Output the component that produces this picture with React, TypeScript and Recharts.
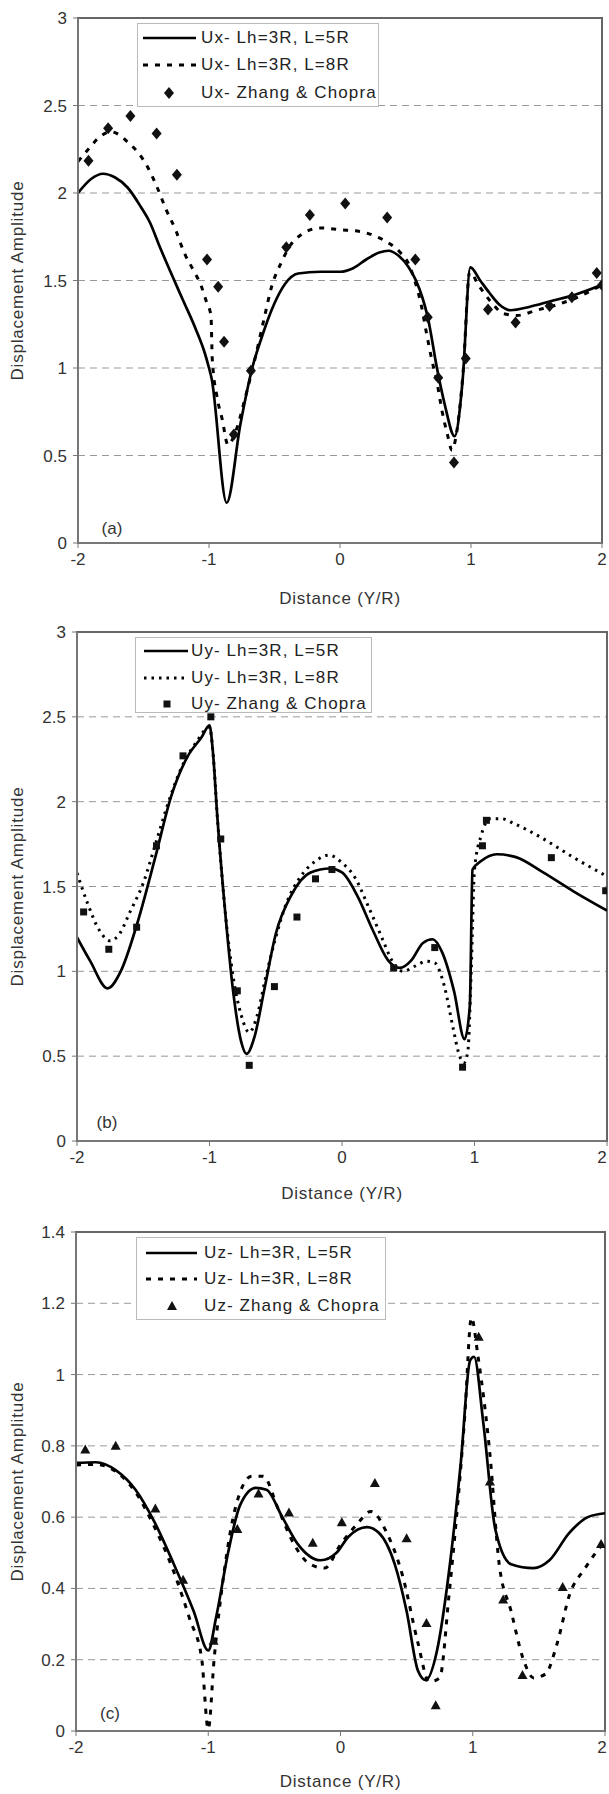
import React from 'react';
import { ComposedChart, Line, Scatter, XAxis, YAxis, CartesianGrid, ReferenceArea, Label } from 'recharts';

type Pt = [number, number];

const FONT = '"Liberation Sans", Arial, sans-serif';

const distanceTicks = [-2, -1, 0, 1, 2];
const ampTicksXY = [0, 0.5, 1, 1.5, 2, 2.5, 3];
const ampTicksZ = [0, 0.2, 0.4, 0.6, 0.8, 1, 1.2, 1.4];

// (a) Ux
const uxLen5R: Pt[] = [
  [-2, 2.0], [-1.9, 2.08], [-1.81, 2.11], [-1.72, 2.09], [-1.62, 2.03], [-1.52, 1.92], [-1.45, 1.83],
  [-1.38, 1.7], [-1.3, 1.56], [-1.2, 1.39], [-1.1, 1.22], [-1.03, 1.08], [-1.0, 1.0], [-0.98, 0.94],
  [-0.865, 0.23], [-0.76, 0.68], [-0.67, 1.0], [-0.6, 1.17], [-0.5, 1.37], [-0.42, 1.48], [-0.32, 1.54],
  [-0.15, 1.55], [0.0, 1.55], [0.1, 1.57], [0.2, 1.62], [0.3, 1.66], [0.37, 1.67], [0.45, 1.64],
  [0.52, 1.58], [0.58, 1.5], [0.63, 1.4], [0.67, 1.29], [0.74, 1.0], [0.8, 0.79], [0.875, 0.61],
  [0.935, 0.92], [0.995, 1.575], [1.07, 1.5], [1.14, 1.43], [1.22, 1.36], [1.3, 1.33], [1.45, 1.35],
  [1.6, 1.38], [1.8, 1.42], [2.0, 1.475],
];
const uxLen8R: Pt[] = [
  [-2, 2.18], [-1.91, 2.26], [-1.85, 2.31], [-1.75, 2.35], [-1.68, 2.33], [-1.62, 2.29], [-1.54, 2.23],
  [-1.47, 2.15], [-1.4, 2.04], [-1.33, 1.91], [-1.25, 1.78], [-1.19, 1.66], [-1.12, 1.56], [-1.06, 1.47],
  [-1.02, 1.38], [-0.985, 1.3], [-0.975, 1.05], [-0.94, 0.84], [-0.9, 0.71], [-0.855, 0.56], [-0.8, 0.63],
  [-0.72, 0.84], [-0.65, 1.05], [-0.58, 1.28], [-0.52, 1.47], [-0.45, 1.6], [-0.38, 1.7], [-0.3, 1.76],
  [-0.15, 1.8], [0.0, 1.79], [0.15, 1.78], [0.28, 1.75], [0.38, 1.71], [0.46, 1.66], [0.52, 1.6],
  [0.57, 1.5], [0.62, 1.36], [0.66, 1.2], [0.7, 1.05], [0.74, 0.92], [0.78, 0.75], [0.82, 0.62],
  [0.855, 0.53], [0.89, 0.63], [0.94, 0.98], [0.99, 1.55], [1.06, 1.47], [1.15, 1.38], [1.25, 1.31],
  [1.35, 1.3], [1.5, 1.33], [1.65, 1.36], [1.8, 1.4], [2.0, 1.475],
];
const uxZhang: Pt[] = [
  [-1.92, 2.185], [-1.77, 2.37], [-1.6, 2.44], [-1.4, 2.34], [-1.245, 2.105], [-1.015, 1.62], [-0.93, 1.465],
  [-0.885, 1.15], [-0.81, 0.62], [-0.68, 0.985], [-0.41, 1.69], [-0.23, 1.875], [0.04, 1.94], [0.36, 1.86],
  [0.575, 1.62], [0.67, 1.29], [0.75, 0.945], [0.87, 0.46], [0.96, 1.055], [1.13, 1.335], [1.34, 1.26],
  [1.6, 1.355], [1.77, 1.405], [1.96, 1.543], [2.0, 1.475],
];

// (b) Uy
const uyLen5R: Pt[] = [
  [-2, 1.2], [-1.9, 1.06], [-1.77, 0.9], [-1.67, 1.0], [-1.55, 1.27], [-1.41, 1.67], [-1.29, 2.03],
  [-1.17, 2.26], [-1.06, 2.38], [-1.0, 2.45], [-0.975, 2.3], [-0.94, 1.9], [-0.88, 1.336], [-0.822, 0.885],
  [-0.763, 0.592], [-0.72, 0.514], [-0.66, 0.615], [-0.588, 0.885], [-0.5, 1.22], [-0.383, 1.448],
  [-0.237, 1.583], [-0.09, 1.606], [0.0, 1.583], [0.114, 1.448], [0.231, 1.245], [0.348, 1.065],
  [0.436, 1.02], [0.523, 1.065], [0.611, 1.167], [0.684, 1.189], [0.757, 1.11], [0.845, 0.885],
  [0.925, 0.6], [0.965, 0.8], [0.985, 1.6], [1.05, 1.65], [1.167, 1.69], [1.313, 1.673], [1.518, 1.583],
  [1.75, 1.47], [2.0, 1.358],
];
const uyLen8R: Pt[] = [
  [-2, 1.58], [-1.92, 1.4], [-1.83, 1.24], [-1.75, 1.18], [-1.68, 1.22], [-1.6, 1.35], [-1.5, 1.52],
  [-1.4, 1.77], [-1.3, 2.02], [-1.2, 2.22], [-1.1, 2.35], [-1.0, 2.44], [-0.975, 2.3], [-0.94, 1.9],
  [-0.88, 1.34], [-0.82, 0.96], [-0.76, 0.74], [-0.7, 0.64], [-0.64, 0.74], [-0.58, 0.95], [-0.5, 1.2],
  [-0.42, 1.4], [-0.32, 1.55], [-0.2, 1.65], [-0.1, 1.685], [0.0, 1.64], [0.1, 1.55], [0.2, 1.38],
  [0.3, 1.2], [0.38, 1.06], [0.46, 1.0], [0.55, 1.03], [0.64, 1.06], [0.7, 1.05], [0.77, 0.92],
  [0.84, 0.66], [0.88, 0.52], [0.92, 0.46], [0.95, 0.53], [0.975, 1.0], [1.0, 1.6], [1.05, 1.8],
  [1.12, 1.9], [1.2, 1.9], [1.3, 1.87], [1.5, 1.79], [1.75, 1.67], [2.0, 1.56],
];
const uyZhang: Pt[] = [
  [-1.95, 1.35], [-1.76, 1.13], [-1.55, 1.26], [-1.4, 1.74], [-1.2, 2.27], [-0.99, 2.5], [-0.915, 1.78],
  [-0.79, 0.885], [-0.7, 0.446], [-0.51, 0.91], [-0.34, 1.32], [-0.2, 1.545], [-0.076, 1.6], [0.39, 1.02],
  [0.7, 1.14], [0.91, 0.435], [1.06, 1.74], [1.09, 1.89], [1.58, 1.67], [1.99, 1.475],
];

// (c) Uz
const uzLen5R: Pt[] = [
  [-2, 0.752], [-1.85, 0.754], [-1.7, 0.732], [-1.55, 0.677], [-1.41, 0.589], [-1.26, 0.468], [-1.11, 0.336],
  [-1.0, 0.226], [-0.94, 0.32], [-0.85, 0.5], [-0.76, 0.633], [-0.64, 0.682], [-0.56, 0.677], [-0.44, 0.6],
  [-0.32, 0.523], [-0.15, 0.479], [-0.03, 0.5], [0.06, 0.545], [0.2, 0.572], [0.29, 0.556], [0.41, 0.468],
  [0.5, 0.336], [0.585, 0.17], [0.645, 0.143], [0.73, 0.226], [0.82, 0.446], [0.91, 0.754], [0.98, 1.04],
  [1.01, 1.05], [1.08, 0.864], [1.17, 0.567], [1.29, 0.468], [1.46, 0.457], [1.58, 0.479], [1.73, 0.556],
  [1.87, 0.6], [2.0, 0.611],
];
const uzLen8R: Pt[] = [
  [-2, 0.746], [-1.85, 0.748], [-1.7, 0.728], [-1.55, 0.67], [-1.41, 0.575], [-1.26, 0.446], [-1.14, 0.314],
  [-1.05, 0.204], [-1.0, 0.005], [-0.955, 0.204], [-0.88, 0.446], [-0.79, 0.633], [-0.67, 0.715],
  [-0.585, 0.715], [-0.47, 0.622], [-0.35, 0.523], [-0.23, 0.468], [-0.12, 0.457], [0.0, 0.523],
  [0.12, 0.578], [0.23, 0.616], [0.35, 0.556], [0.47, 0.435], [0.585, 0.248], [0.67, 0.138], [0.75, 0.149],
  [0.82, 0.38], [0.94, 0.886], [0.99, 1.16], [1.04, 1.05], [1.13, 0.776], [1.2, 0.468], [1.29, 0.336],
  [1.38, 0.204], [1.46, 0.149], [1.55, 0.16], [1.64, 0.248], [1.73, 0.38], [1.85, 0.457], [2.0, 0.534],
];
const uzZhang: Pt[] = [
  [-1.93, 0.79], [-1.7, 0.8], [-1.4, 0.624], [-1.19, 0.424], [-0.96, 0.253], [-0.78, 0.567], [-0.62, 0.666],
  [-0.39, 0.613], [-0.21, 0.528], [0.01, 0.586], [0.26, 0.696], [0.5, 0.541], [0.65, 0.303], [0.72, 0.072],
  [1.045, 1.106], [1.13, 0.7], [1.23, 0.369], [1.376, 0.157], [1.68, 0.404], [1.97, 0.525],
];

const legendUx = ['Ux- Lh=3R, L=5R', 'Ux- Lh=3R, L=8R', 'Ux- Zhang & Chopra'];
const legendUy = ['Uy- Lh=3R, L=5R', 'Uy- Lh=3R, L=8R', 'Uy- Zhang & Chopra'];
const legendUz = ['Uz- Lh=3R, L=5R', 'Uz- Lh=3R, L=8R', 'Uz- Zhang & Chopra'];

const toRows = (pts: Pt[]) => pts.map(([x, y]) => ({ x, y }));

type MarkerKind = 'diamond' | 'square' | 'triangle';

const Marker = ({ kind, cx, cy }: { kind: MarkerKind; cx: number; cy: number }) => {
  if (kind === 'diamond') {
    return <polygon points={`${cx},${cy - 6} ${cx + 5},${cy} ${cx},${cy + 6} ${cx - 5},${cy}`} fill="#111" />;
  }
  if (kind === 'square') {
    return <rect x={cx - 3.5} y={cy - 3.5} width={7} height={7} fill="#111" />;
  }
  return <polygon points={`${cx},${cy - 5} ${cx + 5},${cy + 4} ${cx - 5},${cy + 4}`} fill="#111" />;
};

interface PanelProps {
  top: number;
  height: number;
  marginTop: number;
  marginRight: number;
  yWidth: number;
  xHeight: number;
  titleBase: number;
  yMax: number;
  yTicks: number[];
  solid: Pt[];
  broken: Pt[];
  points: Pt[];
  dash: string;
  dashWidth: number;
  marker: MarkerKind;
  labels: string[];
  legend: { left: number; top: number; width: number; height: number; rows: number[]; s0: number; s1: number; mx: number; tx: number };
  tag: string;
  tagPos: { x: number; y: number };
}

const Panel = (p: PanelProps) => {
  const W = 609;
  const plotW = W - p.yWidth - p.marginRight;
  const plotH = p.height - p.marginTop - p.xHeight;
  const tick = { fill: '#333', fontSize: 17, fontFamily: FONT };
  const lg = p.legend;

  // keep the last tick label inside the page
  const xTick = (t: any) => (
    <text
      x={Math.min(t.x, W - 7)}
      y={t.y}
      dy="0.71em"
      textAnchor="middle"
      fill="#333"
      fontSize={17}
      fontFamily={FONT}
    >
      {t.payload.value}
    </text>
  );

  return (
    <div style={{ position: 'absolute', left: 0, top: p.top, width: W, height: p.height }}>
      <ComposedChart width={W} height={p.height} margin={{ top: p.marginTop, right: p.marginRight, left: 0, bottom: 0 }}>
        <CartesianGrid vertical={false} stroke="#999" strokeDasharray="7 5" />
        <XAxis
          type="number"
          dataKey="x"
          domain={[-2, 2]}
          ticks={distanceTicks}
          interval={0}
          allowDataOverflow
          height={p.xHeight}
          axisLine={{ stroke: '#777', strokeWidth: 2 }}
          tickLine={{ stroke: '#777' }}
          tickSize={5}
          tickMargin={5}
          tick={xTick}
        >
          <Label
            content={() => (
              <text x={p.yWidth + plotW / 2} y={p.titleBase} textAnchor="middle" fill="#333" fontSize={17} fontFamily={FONT} letterSpacing={0.8}>
                Distance (Y/R)
              </text>
            )}
          />
        </XAxis>
        <YAxis
          type="number"
          dataKey="y"
          domain={[0, p.yMax]}
          ticks={p.yTicks}
          interval={0}
          allowDataOverflow
          width={p.yWidth}
          axisLine={{ stroke: '#777', strokeWidth: 2 }}
          tickLine={{ stroke: '#777' }}
          tickSize={5}
          tickMargin={6}
          tick={tick}
        >
          <Label
            content={() => (
              <text
                transform={`translate(17, ${p.marginTop + plotH / 2}) rotate(-90)`}
                textAnchor="middle"
                dominantBaseline="central"
                fill="#333"
                fontSize={17}
                fontFamily={FONT}
                letterSpacing={0.8}
              >
                Displacement Amplitude
              </text>
            )}
          />
        </YAxis>
        <ReferenceArea x1={-2} x2={2} y1={0} y2={p.yMax} fill="none" fillOpacity={0} stroke="#666" strokeWidth={2} />
        <Line
          type="monotone"
          data={toRows(p.solid)}
          dataKey="y"
          stroke="#000"
          strokeWidth={2.7}
          dot={false}
          isAnimationActive={false}
        />
        <Line
          type="monotone"
          data={toRows(p.broken)}
          dataKey="y"
          stroke="#000"
          strokeWidth={p.dashWidth}
          strokeDasharray={p.dash}
          dot={false}
          isAnimationActive={false}
        />
        <Scatter
          data={toRows(p.points)}
          dataKey="y"
          isAnimationActive={false}
          shape={(s: any) => <Marker kind={p.marker} cx={s.cx} cy={s.cy} />}
        />
      </ComposedChart>

      <div
        style={{
          position: 'absolute',
          left: lg.left,
          top: lg.top,
          width: lg.width,
          height: lg.height,
          border: '1px solid #bbb',
          background: '#fff',
          boxSizing: 'border-box',
          fontFamily: FONT,
          fontSize: 17,
          letterSpacing: 1.1,
          color: '#222',
        }}
      >
        {p.labels.map((t, i) => (
          <div key={t} style={{ position: 'absolute', left: 0, top: lg.rows[i] - 12, height: 24, whiteSpace: 'nowrap' }}>
            <svg width={lg.tx} height={24} style={{ position: 'absolute', left: 0, top: 0 }}>
              {i === 0 && <line x1={lg.s0} x2={lg.s1} y1={12} y2={12} stroke="#000" strokeWidth={2.7} />}
              {i === 1 && (
                <line x1={lg.s0} x2={lg.s1} y1={12} y2={12} stroke="#000" strokeWidth={p.dashWidth} strokeDasharray={p.dash} />
              )}
              {i === 2 && <Marker kind={p.marker} cx={lg.mx} cy={12} />}
            </svg>
            <span style={{ position: 'absolute', left: lg.tx, top: 0, lineHeight: '24px' }}>{t}</span>
          </div>
        ))}
      </div>

      <div
        style={{
          position: 'absolute',
          left: p.tagPos.x - 20,
          top: p.tagPos.y - 12,
          width: 40,
          height: 24,
          lineHeight: '24px',
          textAlign: 'center',
          fontFamily: FONT,
          fontSize: 17,
          color: '#333',
        }}
      >
        {p.tag}
      </div>
    </div>
  );
};

export default function App() {
  return (
    <div style={{ position: 'absolute', left: 0, top: 0, width: 609, height: 1794, background: '#fff' }}>
      <Panel
        top={0}
        height={610}
        marginTop={18}
        marginRight={7}
        yWidth={78}
        xHeight={67}
        titleBase={604}
        yMax={3}
        yTicks={ampTicksXY}
        solid={uxLen5R}
        broken={uxLen8R}
        points={uxZhang}
        dash="5 7"
        dashWidth={3}
        marker="diamond"
        labels={legendUx}
        legend={{ left: 137, top: 23, width: 242, height: 84, rows: [14, 41, 69], s0: 5, s1: 58, mx: 31, tx: 63 }}
        tag="(a)"
        tagPos={{ x: 112, y: 529 }}
      />
      <Panel
        top={610}
        height={595}
        marginTop={22}
        marginRight={2}
        yWidth={77}
        xHeight={64}
        titleBase={589}
        yMax={3}
        yTicks={ampTicksXY}
        solid={uyLen5R}
        broken={uyLen8R}
        points={uyZhang}
        dash="2.5 5"
        dashWidth={3}
        marker="square"
        labels={legendUy}
        legend={{ left: 135, top: 27, width: 237, height: 76, rows: [13, 40, 66], s0: 8, s1: 52, mx: 31, tx: 55 }}
        tag="(b)"
        tagPos={{ x: 107, y: 513 }}
      />
      <Panel
        top={1205}
        height={589}
        marginTop={27}
        marginRight={4}
        yWidth={76}
        xHeight={63}
        titleBase={582}
        yMax={1.4}
        yTicks={ampTicksZ}
        solid={uzLen5R}
        broken={uzLen8R}
        points={uzZhang}
        dash="5 7"
        dashWidth={3}
        marker="triangle"
        labels={legendUz}
        legend={{ left: 136, top: 32, width: 250, height: 83, rows: [15, 41, 68], s0: 9, s1: 60, mx: 35, tx: 67 }}
        tag="(c)"
        tagPos={{ x: 110, y: 509 }}
      />
    </div>
  );
}
